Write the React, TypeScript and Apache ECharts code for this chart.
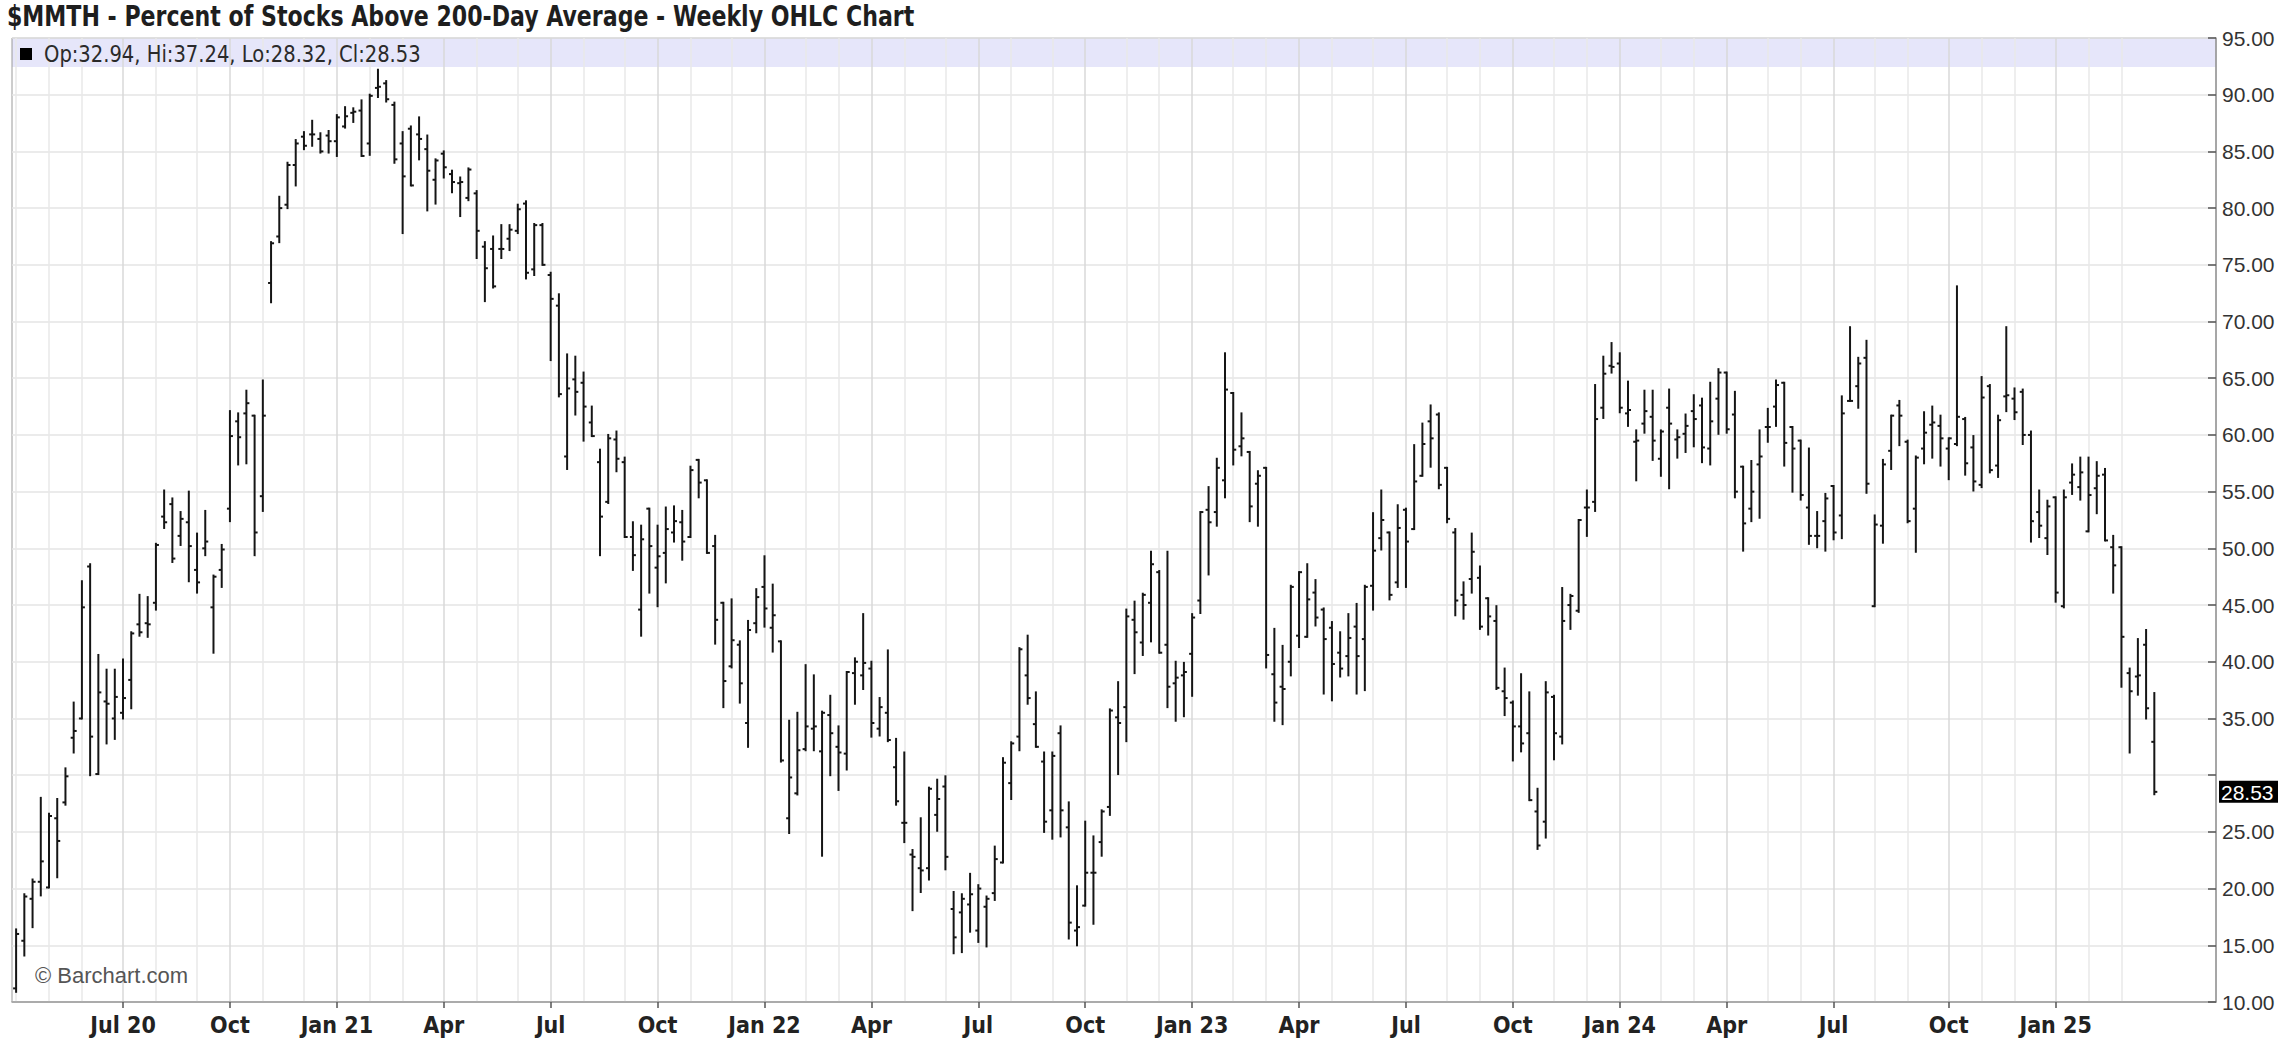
import React, { useEffect, useRef } from 'react';
import * as echarts from 'echarts';

// Weekly bars, dated by the Monday of each week, first bar = week of 6 Apr 2020
const FIRST_WEEK = Date.UTC(2020, 3, 6);
const EMPTY_SLOTS_AFTER = 7;

const TITLE = '$MMTH - Percent of Stocks Above 200-Day Average - Weekly OHLC Chart';
const MONTH_NAMES = ['Jan', 'Feb', 'Mar', 'Apr', 'May', 'Jun', 'Jul', 'Aug', 'Sep', 'Oct', 'Nov', 'Dec'];
const Y_MIN = 10;
const Y_MAX = 95;
const Y_STEP = 5;

const opens = [
  11.2, 15.4, 19.1, 20.6, 20.1, 26.2, 27.6, 33.3, 35.0, 48.4, 30.1, 36.5, 35.0, 35.5, 38.4, 43.3, 43.4, 45.2, 52.8, 53.9,
  51.1, 52.3, 48.1, 50.0, 44.8, 48.1, 53.5, 61.2, 61.9, 61.7, 54.6, 73.4, 77.5, 80.3, 83.8, 86.3, 86.5, 86.1, 86.4, 85.9,
  87.2, 88.4, 88.6, 85.7, 90.6, 91.0, 89.1, 85.7, 87.0, 86.5, 85.2, 82.5, 84.8, 83.0, 82.2, 80.9, 81.3, 76.6, 76.4, 76.4,
  77.3, 78.0, 80.4, 74.6, 78.5, 74.1, 71.4, 58.1, 64.9, 64.6, 61.1, 57.6, 54.1, 59.6, 57.6, 51.0, 44.6, 53.5, 48.3, 49.6,
  51.4, 52.3, 51.0, 57.8, 56.0, 50.2, 45.2, 39.6, 41.5, 34.6, 43.4, 46.6, 43.0, 41.8, 26.2, 28.4, 32.3, 34.1, 32.1, 35.3,
  32.5, 31.9, 39.0, 38.8, 39.4, 34.1, 35.5, 30.7, 25.8, 23.0, 21.8, 21.8, 26.5, 29.0, 18.2, 17.9, 18.6, 16.3, 18.4, 19.6,
  22.3, 29.3, 33.4, 38.8, 34.5, 31.2, 26.9, 33.7, 25.4, 16.3, 18.5, 21.4, 24.1, 27.2, 35.1, 36.0, 43.7, 41.7, 45.2, 47.9,
  41.5, 38.1, 38.8, 40.7, 45.4, 53.4, 53.2, 56.0, 63.7, 59.0, 58.5, 55.7, 57.1, 38.9, 37.8, 40.0, 42.3, 42.2, 46.1, 44.6,
  43.0, 40.8, 40.5, 43.1, 42.0, 46.7, 50.9, 51.4, 47.0, 53.4, 51.7, 56.4, 61.2, 61.8, 57.1, 51.4, 45.9, 47.3, 47.4, 45.6,
  43.6, 37.4, 36.4, 34.3, 33.7, 26.8, 25.9, 36.9, 33.4, 45.0, 44.5, 53.6, 54.1, 62.4, 66.1, 66.3, 61.9, 59.4, 61.0, 61.6,
  57.9, 62.4, 59.6, 60.1, 62.1, 62.6, 58.8, 63.2, 65.5, 61.8, 57.2, 53.5, 57.4, 60.7, 62.5, 64.6, 60.7, 59.5, 53.6, 51.1,
  52.4, 55.5, 52.9, 63.0, 64.3, 66.8, 44.9, 52.0, 58.6, 62.6, 59.4, 53.5, 58.8, 60.9, 60.8, 58.8, 59.2, 61.4, 58.9, 55.6,
  64.3, 57.3, 63.4, 63.2, 63.8, 60.0, 53.2, 50.9, 54.5, 44.9, 55.8, 55.4, 51.5, 55.3, 56.5, 50.1, 50.1, 39.0, 38.7, 41.5,
  32.94,
];

const highs = [
  16.4, 19.5, 20.8, 28.0, 26.6, 27.9, 30.6, 36.4, 47.1, 48.6, 40.6, 39.3, 39.3, 40.2, 42.6, 45.9, 45.7, 50.4, 55.1, 54.4,
  53.2, 55.0, 51.3, 53.3, 47.6, 50.3, 62.1, 61.9, 63.9, 61.7, 64.8, 77.0, 81.0, 84.0, 86.0, 86.7, 87.7, 86.6, 86.8, 88.2,
  88.9, 88.8, 89.5, 90.0, 92.2, 91.2, 89.3, 86.7, 87.2, 88.0, 86.4, 84.3, 85.0, 83.3, 82.7, 83.5, 81.5, 77.0, 77.5, 78.5,
  78.5, 80.3, 80.6, 78.6, 78.6, 74.3, 72.4, 67.1, 66.9, 65.5, 62.5, 58.7, 60.0, 60.3, 58.0, 52.3, 52.0, 53.5, 52.0, 53.6,
  53.7, 53.3, 57.2, 57.8, 56.0, 51.1, 45.2, 45.5, 41.8, 43.6, 46.4, 49.3, 46.8, 41.8, 34.8, 35.5, 39.7, 38.8, 35.6, 37.0,
  34.3, 39.1, 40.3, 44.2, 40.0, 36.8, 41.0, 33.2, 32.0, 23.4, 26.2, 28.9, 29.6, 29.9, 19.7, 19.5, 21.3, 20.3, 19.3, 23.7,
  31.5, 32.9, 41.2, 42.3, 37.3, 32.0, 32.0, 34.3, 27.6, 20.2, 25.9, 24.6, 26.9, 35.8, 38.2, 44.6, 45.3, 46.0, 49.7, 48.0,
  49.7, 40.0, 39.9, 44.2, 53.2, 55.4, 57.9, 67.2, 63.7, 61.9, 58.5, 56.8, 57.1, 42.9, 41.4, 46.7, 47.9, 48.6, 47.2, 44.7,
  43.5, 42.6, 44.2, 45.1, 46.7, 53.1, 55.1, 51.4, 53.8, 53.5, 59.1, 61.0, 62.6, 61.9, 57.1, 51.7, 47.0, 51.3, 48.4, 45.6,
  44.9, 39.4, 36.5, 38.9, 37.3, 28.8, 38.2, 37.0, 46.5, 45.9, 52.5, 55.1, 64.4, 66.9, 68.1, 67.2, 64.7, 60.4, 63.9, 63.9,
  60.4, 64.0, 60.4, 61.8, 63.5, 63.2, 64.6, 65.8, 65.5, 63.8, 57.2, 57.7, 60.4, 62.3, 64.8, 64.6, 60.7, 59.5, 58.8, 53.2,
  54.8, 55.5, 63.4, 69.5, 66.8, 68.3, 52.9, 57.8, 61.7, 63.0, 59.5, 58.1, 62.0, 62.5, 61.7, 59.7, 73.1, 61.5, 59.9, 65.1,
  64.4, 61.7, 69.5, 64.1, 64.0, 60.3, 55.1, 54.2, 54.5, 55.1, 57.4, 58.0, 58.0, 57.6, 57.0, 51.1, 50.1, 39.4, 42.0, 42.8,
  37.24,
];

const lows = [
  10.9, 14.1, 16.6, 19.4, 20.1, 21.0, 27.4, 32.0, 35.0, 30.0, 30.1, 32.8, 33.2, 35.0, 35.9, 42.3, 42.2, 44.6, 51.8, 48.8,
  50.3, 47.1, 46.1, 49.4, 40.8, 46.6, 52.4, 57.4, 57.5, 49.4, 53.3, 71.7, 77.0, 80.0, 82.0, 85.2, 85.5, 84.9, 84.9, 84.6,
  87.1, 87.6, 84.6, 84.7, 89.8, 89.4, 84.0, 77.8, 82.0, 84.3, 79.8, 80.4, 82.7, 81.4, 79.3, 80.7, 75.6, 71.8, 73.0, 75.6,
  76.3, 77.8, 73.8, 74.1, 75.0, 66.6, 63.4, 57.0, 61.8, 59.5, 59.9, 49.4, 54.0, 56.8, 51.0, 48.1, 42.3, 46.1, 44.9, 47.0,
  50.6, 49.0, 51.0, 54.5, 49.6, 41.6, 36.0, 39.5, 36.4, 32.5, 42.6, 43.1, 40.9, 31.2, 24.9, 28.3, 32.2, 32.2, 22.9, 30.0,
  28.7, 30.5, 36.3, 37.6, 33.4, 33.5, 33.0, 27.4, 24.1, 18.1, 19.7, 20.8, 25.1, 21.7, 14.3, 14.4, 16.2, 15.3, 14.9, 19.0,
  22.3, 27.9, 32.2, 36.3, 32.5, 25.0, 24.4, 24.6, 15.6, 15.0, 18.5, 16.9, 22.9, 26.5, 30.1, 33.0, 39.0, 40.6, 41.8, 40.8,
  36.0, 34.8, 35.2, 37.0, 44.3, 47.7, 52.0, 54.5, 57.4, 58.2, 52.4, 52.0, 39.5, 34.8, 34.5, 38.8, 41.3, 42.2, 43.2, 37.2,
  36.6, 38.7, 38.8, 37.2, 37.5, 44.6, 49.9, 45.5, 46.6, 46.6, 51.7, 56.4, 57.2, 55.3, 52.3, 44.1, 43.8, 46.1, 42.9, 42.4,
  37.6, 35.3, 31.3, 32.1, 27.8, 23.5, 24.5, 31.4, 32.8, 42.9, 44.4, 51.1, 53.3, 61.5, 65.5, 62.0, 60.8, 56.0, 60.2, 57.8,
  56.4, 55.3, 58.0, 58.5, 59.0, 57.6, 57.4, 60.1, 60.2, 54.5, 49.8, 52.4, 52.7, 59.4, 60.8, 57.3, 55.0, 54.3, 50.4, 50.1,
  49.8, 50.8, 50.9, 63.0, 62.4, 54.9, 44.9, 50.5, 57.0, 59.1, 52.3, 49.7, 57.5, 58.0, 57.3, 56.1, 59.1, 56.5, 55.1, 55.4,
  56.7, 56.3, 62.1, 61.4, 59.2, 50.6, 51.0, 49.5, 45.3, 44.8, 54.8, 54.3, 51.5, 53.1, 50.7, 46.1, 37.8, 32.0, 37.1, 35.0,
  28.32,
];

const closes = [
  16.0, 19.3, 20.6, 22.4, 26.4, 24.2, 29.9, 33.9, 44.8, 33.4, 37.3, 36.3, 36.9, 36.8, 42.5, 42.6, 43.3, 50.3, 52.3, 49.1,
  52.6, 50.2, 47.0, 50.6, 47.5, 49.9, 59.9, 59.8, 62.8, 51.4, 61.7, 76.9, 80.0, 83.8, 85.7, 85.5, 86.5, 85.0, 85.9, 88.0,
  88.1, 88.5, 84.6, 89.9, 90.7, 89.6, 84.3, 82.8, 82.0, 86.1, 83.3, 84.2, 83.6, 82.3, 82.3, 83.4, 78.0, 74.7, 73.1, 76.4,
  78.1, 79.9, 74.3, 78.5, 75.0, 72.0, 63.6, 64.1, 63.8, 62.5, 59.9, 52.8, 59.7, 57.9, 51.0, 49.4, 50.8, 50.2, 49.3, 51.7,
  52.4, 50.6, 56.9, 55.8, 49.6, 43.7, 38.3, 41.9, 38.1, 42.8, 45.7, 44.7, 44.1, 31.3, 29.8, 32.2, 34.3, 34.3, 35.5, 33.7,
  32.0, 39.1, 40.0, 39.9, 34.6, 36.0, 33.1, 27.7, 25.8, 22.8, 21.6, 28.8, 27.9, 22.8, 15.7, 19.1, 19.5, 20.0, 19.1, 22.6,
  31.1, 32.8, 41.1, 36.8, 32.5, 25.9, 31.7, 26.9, 17.0, 16.6, 21.4, 21.4, 26.8, 35.7, 34.6, 44.0, 42.6, 45.9, 48.6, 40.8,
  37.8, 38.6, 39.1, 43.9, 53.2, 52.3, 57.1, 64.0, 58.7, 59.7, 53.7, 56.4, 40.6, 36.4, 37.6, 46.6, 47.9, 45.5, 43.9, 42.0,
  39.8, 39.4, 42.1, 40.5, 46.6, 49.8, 52.5, 45.9, 51.8, 50.6, 55.9, 59.2, 59.7, 55.6, 52.6, 45.4, 45.0, 49.7, 43.1, 44.0,
  37.7, 36.8, 34.3, 32.8, 27.8, 23.8, 37.3, 33.7, 43.6, 45.8, 52.5, 53.6, 61.4, 65.4, 66.0, 62.4, 62.2, 59.5, 62.1, 59.5,
  60.3, 61.0, 59.8, 60.8, 61.4, 58.9, 61.2, 65.5, 60.5, 55.0, 52.2, 55.0, 58.1, 60.7, 64.4, 59.3, 58.8, 54.7, 51.1, 51.1,
  54.4, 51.4, 61.9, 63.0, 66.3, 55.7, 52.1, 57.4, 61.7, 61.7, 52.4, 58.0, 60.2, 61.1, 59.7, 59.7, 61.6, 57.5, 55.9, 63.3,
  56.9, 61.3, 63.5, 62.0, 60.0, 52.4, 52.0, 53.7, 46.1, 54.5, 56.5, 56.7, 54.7, 56.4, 50.7, 48.5, 42.2, 37.4, 38.8, 35.9,
  28.53,
];

const NARROW = "'Liberation Sans Narrow', 'Arial Narrow', 'DejaVu Sans Condensed', 'Liberation Sans', sans-serif";
const REGULAR = "'Liberation Sans', Arial, 'DejaVu Sans', sans-serif";

export default function App() {
  const ref = useRef<HTMLDivElement>(null);

  useEffect(() => {
    if (!ref.current) return;
    const chart = echarts.init(ref.current, null, { renderer: 'svg' });
    const n = closes.length;
    const dates: Date[] = [];
    for (let i = 0; i < n + EMPTY_SLOTS_AFTER; i++) dates.push(new Date(FIRST_WEEK + i * 7 * 86400000));
    const cats = dates.map((d) => d.toISOString().slice(0, 10));
    const monthStart = dates.map(
      (d, i) => i < n && (i === 0 || d.getUTCMonth() !== dates[i - 1].getUTCMonth())
    );
    const quarterStart = monthStart.map((m, i) => m && i > 0 && dates[i].getUTCMonth() % 3 === 0);
    const labels: Record<number, string> = {};
    let first = true;
    quarterStart.forEach((q, i) => {
      if (!q) return;
      const m = dates[i].getUTCMonth();
      const yy = String(dates[i].getUTCFullYear()).slice(2);
      labels[i] = m === 0 || first ? `${MONTH_NAMES[m]} ${yy}` : MONTH_NAMES[m];
      first = false;
    });

    const data = opens.map((o, i) => [i, o, highs[i], lows[i], closes[i]]);
    const last = n - 1;
    const lastClose = closes[last];
    const legendText = `Op:${opens[last].toFixed(2)}, Hi:${highs[last].toFixed(2)}, Lo:${lows[last].toFixed(2)}, Cl:${lastClose.toFixed(2)}`;

    const barColor = '#151515';

    chart.setOption({
      animation: false,
      backgroundColor: '#ffffff',
      grid: {
        left: 12,
        right: 79,
        top: 38,
        bottom: 50,
        show: true,
        borderColor: '#9a9a9a',
        borderWidth: 1,
        backgroundColor: 'transparent',
      },
      xAxis: [
        {
          type: 'category',
          data: cats,
          boundaryGap: true,
          axisLine: { show: true, lineStyle: { color: '#9a9a9a', width: 1.5 } },
          axisTick: {
            show: true,
            interval: (i: number) => quarterStart[i],
            alignWithLabel: true,
            length: 6,
            lineStyle: { color: '#555', width: 1.5 },
          },
          axisLabel: {
            interval: (i: number) => labels[i] !== undefined,
            formatter: (_v: string, i: number) => labels[i] ?? '',
            fontFamily: NARROW,
            fontWeight: 'bold',
            fontSize: 23,
            color: '#222',
            margin: 11,
          },
          splitLine: {
            show: true,
            interval: (i: number) => quarterStart[i],
            alignWithLabel: true,
            lineStyle: { color: '#d9d9d9', width: 1.5 },
          },
        },
        {
          type: 'category',
          data: cats,
          boundaryGap: true,
          position: 'bottom',
          axisLine: { show: false },
          axisTick: { show: false },
          axisLabel: { show: false },
          splitLine: {
            show: true,
            interval: (i: number) => monthStart[i] && !quarterStart[i],
            alignWithLabel: true,
            lineStyle: { color: '#e8e8e8', width: 1.5 },
          },
        },
      ],
      yAxis: {
        type: 'value',
        position: 'right',
        min: Y_MIN,
        max: Y_MAX,
        interval: Y_STEP,
        axisLine: { show: true, lineStyle: { color: '#9a9a9a', width: 1.5 } },
        axisTick: { show: true, inside: true, length: 8, lineStyle: { color: '#555', width: 1.5 } },
        axisLabel: {
          // the last-price tag covers the label it would overlap
          formatter: (v: number) => (Math.abs(v - lastClose) < 2.6 ? '' : v.toFixed(2)),
          color: '#333',
          fontSize: 21,
          fontFamily: REGULAR,
          margin: 6,
        },
        splitLine: { show: true, lineStyle: { color: '#e4e4e4', width: 1.5 } },
      },
      series: [
        {
          type: 'custom',
          xAxisIndex: 0,
          yAxisIndex: 0,
          data,
          encode: { x: 0, y: [1, 2, 3, 4] },
          renderItem: (_params: any, api: any) => {
            const idx = api.value(0);
            const o = api.coord([idx, api.value(1)]);
            const h = api.coord([idx, api.value(2)]);
            const l = api.coord([idx, api.value(3)]);
            const c = api.coord([idx, api.value(4)]);
            const style = { stroke: barColor, lineWidth: 2 };
            const t = 3;
            return {
              type: 'group',
              children: [
                { type: 'line', shape: { x1: h[0], y1: h[1] - 1, x2: l[0], y2: l[1] + 1 }, style },
                { type: 'line', shape: { x1: o[0] - t, y1: o[1], x2: o[0], y2: o[1] }, style },
                { type: 'line', shape: { x1: c[0], y1: c[1], x2: c[0] + t, y2: c[1] }, style },
              ],
            };
          },
        },
      ],
    });

    // last-price tag on the right axis, placed through the axis scale
    const yPix = chart.convertToPixel({ yAxisIndex: 0 }, lastClose) as number;

    chart.setOption({
      graphic: [
        {
          id: 'band',
          type: 'rect',
          z: -1,
          shape: { x: 12, y: 38, width: 2204, height: 29 },
          style: { fill: '#e6e6fa' },
          silent: true,
        },
        {
          id: 'legendSwatch',
          type: 'rect',
          shape: { x: 20, y: 48, width: 12, height: 12 },
          style: { fill: '#000' },
        },
        {
          id: 'legendText',
          type: 'text',
          x: 44,
          y: 54,
          scaleX: 0.945,
          style: {
            text: legendText,
            fill: '#2a2a2a',
            font: `23px ${NARROW}`,
            verticalAlign: 'middle',
          },
        },
        {
          id: 'title',
          type: 'text',
          x: 7,
          y: 16,
          scaleX: 0.877,
          style: {
            text: TITLE,
            fill: '#1e1e1e',
            font: `bold 28px ${NARROW}`,
            verticalAlign: 'middle',
          },
        },
        {
          id: 'copyright',
          type: 'text',
          x: 35,
          y: 975,
          style: {
            text: '\u00a9 Barchart.com',
            fill: '#555',
            font: `22px ${REGULAR}`,
            verticalAlign: 'middle',
          },
        },
        {
          id: 'lastPriceBox',
          type: 'rect',
          shape: { x: 2219, y: yPix - 11, width: 59, height: 22 },
          style: { fill: '#000' },
        },
        {
          id: 'lastPriceText',
          type: 'text',
          x: 2221,
          y: yPix + 1,
          style: {
            text: lastClose.toFixed(2),
            fill: '#fff',
            font: `21px ${REGULAR}`,
            verticalAlign: 'middle',
          },
        },
      ],
    });

    return () => chart.dispose();
  }, []);

  return (
    <div
      ref={ref}
      style={{ position: 'fixed', left: 0, top: 0, width: 2295, height: 1052, background: '#fff' }}
    />
  );
}
